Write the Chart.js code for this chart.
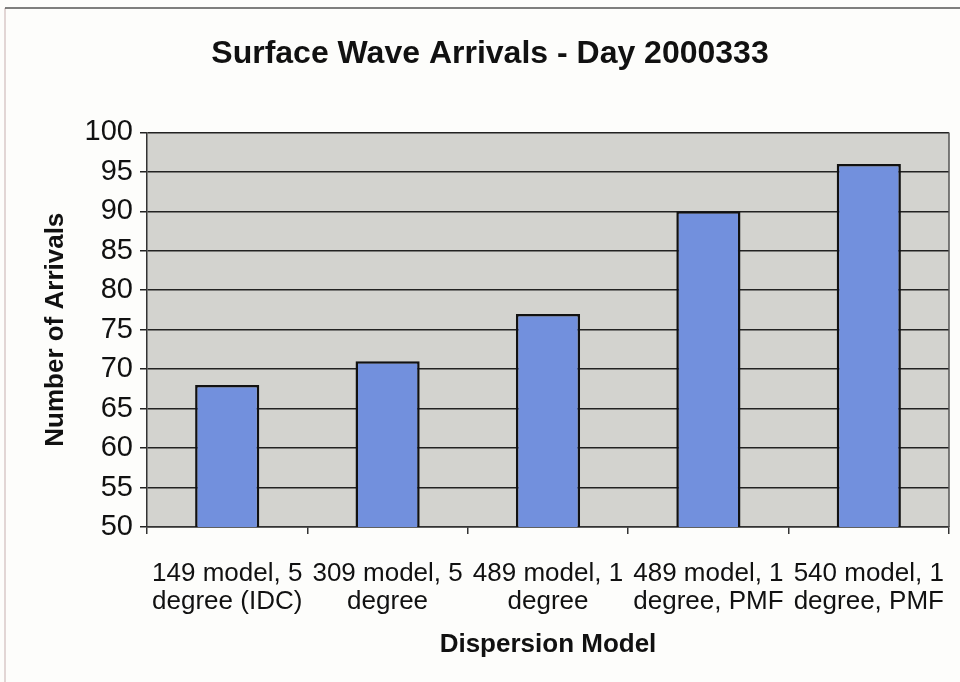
<!DOCTYPE html>
<html>
<head>
<meta charset="utf-8">
<script src="https://cdn.jsdelivr.net/npm/chart.js@4.4.1/dist/chart.umd.min.js"></script>
<style>
  html, body { margin: 0; padding: 0; background: #fdfdfb; }
  #wrap { width: 960px; height: 682px; }
</style>
</head>
<body>
<div id="wrap"><canvas id="chart1"></canvas></div>
<script>
// chart data
const categories = [
  ["149 model, 5", "degree (IDC)"],
  ["309 model, 5", "degree"],
  ["489 model, 1", "degree"],
  ["489 model, 1", "degree, PMF"],
  ["540 model, 1", "degree, PMF"]
];
const arrivals = [68, 71, 77, 90, 96];
const yMin = 50;
const yMax = 100;
const yStep = 5;

// paints the grey plot area and the outer frame
const plotBackground = {
  id: "plotBackground",
  beforeDraw(chart) {
    const { ctx, chartArea } = chart;
    ctx.save();
    ctx.fillStyle = "#d3d3cf";
    ctx.fillRect(chartArea.left, chartArea.top, chartArea.right - chartArea.left, chartArea.bottom - chartArea.top);
    // outer frame (top + left visible in the scan)
    ctx.lineWidth = 1.5;
    ctx.strokeStyle = "#d9c9c9";
    ctx.beginPath();
    ctx.moveTo(5, 700);
    ctx.lineTo(5, 8);
    ctx.stroke();
    ctx.strokeStyle = "#555";
    ctx.beginPath();
    ctx.moveTo(5, 8);
    ctx.lineTo(960, 8);
    ctx.stroke();
    ctx.restore();
  },
  afterDatasetsDraw(chart) {
    const { ctx, chartArea } = chart;
    ctx.save();
    ctx.strokeStyle = "#555";
    ctx.lineWidth = 1.5;
    ctx.beginPath();
    ctx.moveTo(chartArea.right, chartArea.top);
    ctx.lineTo(chartArea.right, chartArea.bottom);
    ctx.stroke();
    ctx.restore();
  }
};

const ctx1 = document.getElementById("chart1").getContext("2d");
const chart1 = new Chart(ctx1, {
  type: "bar",
  data: {
    labels: categories,
    datasets: [{
      label: "Number of Arrivals",
      data: arrivals,
      backgroundColor: "#7290dd",
      borderColor: "#111",
      borderWidth: 2.5,
      borderSkipped: false,
      barPercentage: 0.4,
      categoryPercentage: 1.0
    }]
  },
  options: {
    responsive: true,
    maintainAspectRatio: false,
    animation: false,
    layout: { padding: { left: 31, right: 11, top: 0, bottom: 0 } },
    plugins: {
      legend: { display: false },
      tooltip: { enabled: false },
      title: {
        display: true,
        text: "Surface Wave Arrivals - Day 2000333",
        color: "#111",
        font: { family: "Liberation Sans, Arial, sans-serif", size: 32, weight: "bold" },
        padding: { top: 35, bottom: 59 }
      }
    },
    scales: {
      x: {
        grid: { display: true, drawOnChartArea: false, tickLength: 7, color: "#333", lineWidth: 1.5, offset: true },
        border: { display: true, color: "#333", width: 1.5 },
        ticks: {
          color: "#111",
          padding: 26,
          maxRotation: 0,
          autoSkip: false,
          font: { family: "Liberation Sans, Arial, sans-serif", size: 26, lineHeight: 1.08 }
        },
        title: {
          display: true,
          text: "Dispersion Model",
          color: "#111",
          font: { family: "Liberation Sans, Arial, sans-serif", size: 26, weight: "bold" },
          padding: { top: 22, bottom: 22 }
        },
        afterFit(scale) {
          scale.height = 155;
          scale.paddingLeft = 0;
          scale.paddingRight = 0;
        }
      },
      y: {
        min: yMin,
        max: yMax,
        grid: { color: "#222", lineWidth: 1.5, tickLength: 7 },
        border: { display: true, color: "#333", width: 1.5 },
        ticks: {
          stepSize: yStep,
          color: "#111",
          padding: 7,
          font: { family: "Liberation Sans, Arial, sans-serif", size: 29 }
        },
        title: {
          display: true,
          text: "Number of Arrivals",
          color: "#111",
          font: { family: "Liberation Sans, Arial, sans-serif", size: 26, weight: "bold" },
          padding: { top: 9, bottom: 9 }
        },
        afterFit(scale) { scale.width = 116; }
      }
    }
  },
  plugins: [plotBackground]
});
</script>
</body>
</html>
